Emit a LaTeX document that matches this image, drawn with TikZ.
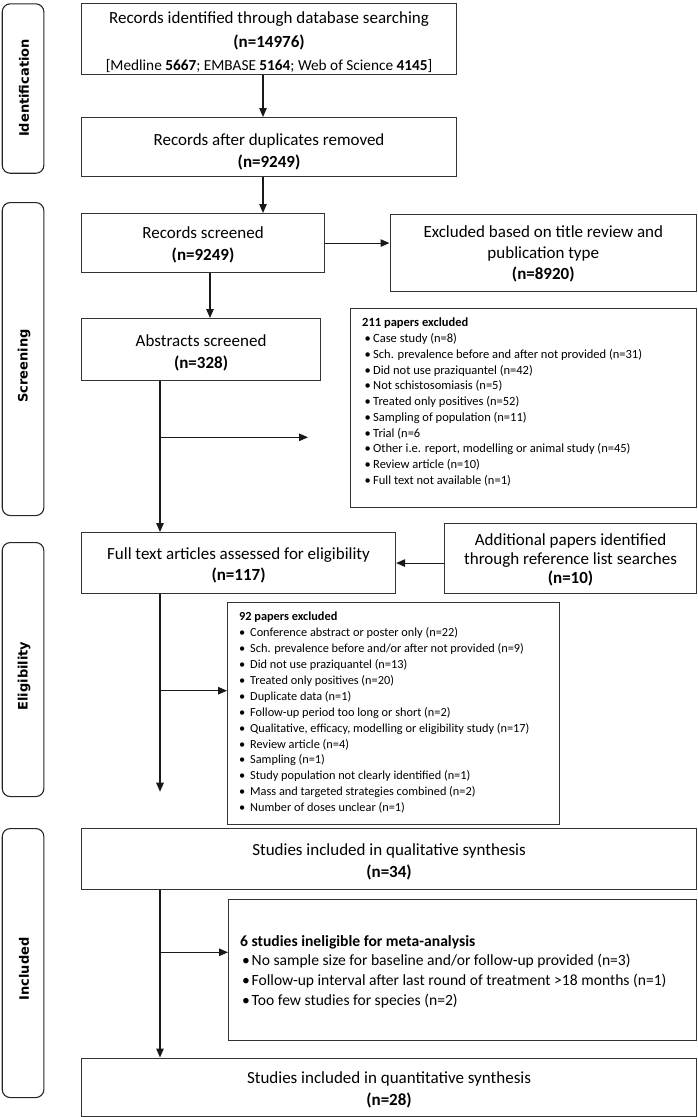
\documentclass[tikz,border=0pt]{standalone}
\usepackage{fontspec}
\setmainfont{Carlito}
\newfontfamily\labelfont{DejaVu Sans}
\usetikzlibrary{arrows.meta}
\newcommand\mybul[2]{\hspace*{#1}\makebox[#2][l]{\textbullet}}
\begin{document}
\begin{tikzpicture}[x=1pt,y=-1pt,
  box/.style={draw=black!80, line width=1.1pt, inner sep=0pt, anchor=north west},
  boxtext/.style={inner sep=0pt, align=center},
  stage/.style={draw=black!85, line width=1.1pt, rounded corners=8pt, anchor=north west, inner sep=0pt},
  stagetext/.style={rotate=90, inner sep=0pt, font=\labelfont\bfseries\fontsize{13}{15}\selectfont},
  listtext/.style={anchor=north west, align=left, inner sep=0pt},
  arr/.style={line width=1.1pt, draw=black!90, -{Triangle[length=9pt,width=7.5pt]}}]
\useasboundingbox (0,0) rectangle (698,1117);

% stage labels
\node[stage, minimum width=41.6pt, minimum height=169.4pt] (s1) at (1.7,3.3) {};
\node[stage, minimum width=41.6pt, minimum height=313pt] (s2) at (1.7,202) {};
\node[stage, minimum width=41.6pt, minimum height=254pt] (s3) at (1.7,542) {};
\node[stage, minimum width=41.6pt, minimum height=269pt] (s4) at (1.7,828) {};
\node[stagetext] (l1) at (24,88) {Identification};
\node[stagetext] (l2) at (24,366) {Screening};
\node[stagetext] (l3) at (24,676) {Eligibility};
\node[stagetext] (l4) at (24,969) {Included};

% boxes
\node[box, minimum width=375pt, minimum height=71pt] (b1) at (81,2.5) {};
\node[boxtext, font=\fontsize{17}{23.5}\selectfont] (b1t) at ([yshift=-4pt]b1.center)
  {Records identified through database searching\\ \textbf{(n=14976)}\\
   {\fontsize{15.3}{23.5}\selectfont [Medline \textbf{5667}; EMBASE \textbf{5164}; Web of Science \textbf{4145}]}};
\node[box, minimum width=375pt, minimum height=59pt] (b2) at (81,117) {};
\node[boxtext, font=\fontsize{17}{22.5}\selectfont] (b2t) at ([yshift=-5pt]b2.center)
  {Records after duplicates removed\\ \textbf{(n=9249)}};
\node[box, minimum width=243pt, minimum height=59pt] (b3) at (81,213) {};
\node[boxtext, font=\fontsize{17}{22}\selectfont] (b3t) at ([yshift=-2pt]b3.center)
  {Records screened\\ \textbf{(n=9249)}};
\node[box, minimum width=306.5pt, minimum height=77pt] (b4) at (389.5,214) {};
\node[boxtext, font=\fontsize{17}{20.7}\selectfont] (b4t) at ([yshift=-1pt]b4.center)
  {Excluded based on title review and\\ publication type\\ \textbf{(n=8920)}};
\node[box, minimum width=239pt, minimum height=62pt] (b5) at (81,318) {};
\node[boxtext, font=\fontsize{17}{21.7}\selectfont] (b5t) at ([yshift=-3pt]b5.center)
  {Abstracts screened\\ \textbf{(n=328)}};
\node[box, minimum width=346pt, minimum height=199pt] (b6) at (350,308) {};
\node[listtext, font=\fontsize{12.5}{15.75}\selectfont] (t6) at (362,318)
  {\textbf{211 papers excluded}\\
   \mybul{2.5pt}{8.5pt}Case study (n=8)\\
   \mybul{2.5pt}{8.5pt}Sch. prevalence before and after not provided (n=31)\\
   \mybul{2.5pt}{8.5pt}Did not use praziquantel (n=42)\\
   \mybul{2.5pt}{8.5pt}Not schistosomiasis (n=5)\\
   \mybul{2.5pt}{8.5pt}Treated only positives (n=52)\\
   \mybul{2.5pt}{8.5pt}Sampling of population (n=11)\\
   \mybul{2.5pt}{8.5pt}Trial (n=6\\
   \mybul{2.5pt}{8.5pt}Other i.e. report, modelling or animal study (n=45)\\
   \mybul{2.5pt}{8.5pt}Review article (n=10)\\
   \mybul{2.5pt}{8.5pt}Full text not available (n=1)};
\node[box, minimum width=314pt, minimum height=61pt] (b7) at (81,532) {};
\node[boxtext, font=\fontsize{17}{21}\selectfont] (b7t) at ([yshift=-2pt]b7.center)
  {Full text articles assessed for eligibility\\ \textbf{(n=117)}};
\node[box, minimum width=252pt, minimum height=70pt] (b8) at (444,523) {};
\node[boxtext, font=\fontsize{17}{19}\selectfont] (b8t) at ([yshift=-1pt]b8.center)
  {Additional papers identified\\ through reference list searches\\ \textbf{(n=10)}};
\node[box, minimum width=332pt, minimum height=222pt] (b9) at (227,602) {};
\node[listtext, font=\fontsize{12.3}{15.9}\selectfont] (t9) at (239,612)
  {\textbf{92 papers excluded}\\
   \mybul{0pt}{11pt}Conference abstract or poster only (n=22)\\
   \mybul{0pt}{11pt}Sch. prevalence before and/or after not provided (n=9)\\
   \mybul{0pt}{11pt}Did not use praziquantel (n=13)\\
   \mybul{0pt}{11pt}Treated only positives (n=20)\\
   \mybul{0pt}{11pt}Duplicate data (n=1)\\
   \mybul{0pt}{11pt}Follow-up period too long or short (n=2)\\
   \mybul{0pt}{11pt}Qualitative, efficacy, modelling or eligibility study (n=17)\\
   \mybul{0pt}{11pt}Review article (n=4)\\
   \mybul{0pt}{11pt}Sampling (n=1)\\
   \mybul{0pt}{11pt}Study population not clearly identified (n=1)\\
   \mybul{0pt}{11pt}Mass and targeted strategies combined (n=2)\\
   \mybul{0pt}{11pt}Number of doses unclear (n=1)};
\node[box, minimum width=615pt, minimum height=61pt] (b10) at (81,828) {};
\node[boxtext, font=\fontsize{17}{21.7}\selectfont] (b10t) at ([yshift=-3pt]b10.center)
  {Studies included in qualitative synthesis\\ \textbf{(n=34)}};
\node[box, minimum width=468pt, minimum height=141pt] (b11) at (228,899) {};
\node[listtext, font=\fontsize{15.6}{19.8}\selectfont] (t11) at (240,935)
  {\textbf{6 studies ineligible for meta-analysis}\\
   \mybul{2pt}{9.5pt}No sample size for baseline and/or follow-up provided (n=3)\\
   \mybul{2pt}{9.5pt}Follow-up interval after last round of treatment >18 months (n=1)\\
   \mybul{2pt}{9.5pt}Too few studies for species (n=2)};
\node[box, minimum width=615pt, minimum height=58pt] (b12) at (81,1057.5) {};
\node[boxtext, font=\fontsize{17}{22}\selectfont] (b12t) at ([yshift=-3pt]b12.center)
  {Studies included in quantitative synthesis\\ \textbf{(n=28)}};

% junction coordinates
\coordinate (x1) at (263,0);
\coordinate (x2) at (210,0);
\coordinate (j1) at (160,437.3);
\coordinate (e1) at (308,437.3);
\coordinate (j2) at (160,690.7);
\coordinate (e2) at (160,791.7);
\coordinate (j3) at (160,952.3);

% connectors
\draw[arr] (b1.south -| x1) -- (b2.north -| x1);
\draw[arr] (b2.south -| x1) -- (b3.north -| x1);
\draw[arr] (b3.east) -- (b3.east -| b4.west);
\draw[arr] (b3.south -| x2) -- (b5.north -| x2);
\draw[arr] (b5.south -| j1) -- (b7.north -| j1);
\draw[arr] (j1) -- (e1);
\draw[arr] (b8.west |- b7.east) -- (b7.east);
\draw[arr] (b7.south -| j2) -- (e2);
\draw[arr] (j2) -- (j2 -| b9.west);
\draw[arr] (b10.south -| j3) -- (b12.north -| j3);
\draw[arr] (j3) -- (j3 -| b11.west);
\end{tikzpicture}
\end{document}
